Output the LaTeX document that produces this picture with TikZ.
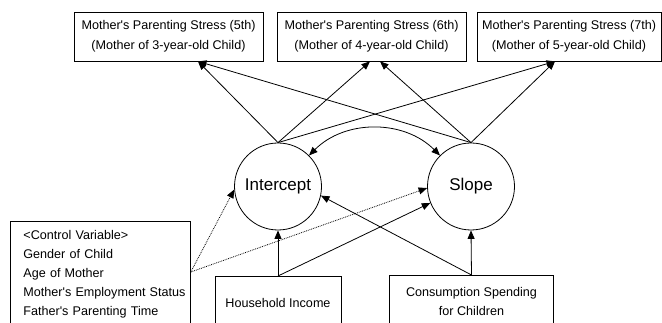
\documentclass[tikz,border=0pt]{standalone}
\usepackage{fontspec}
\setmainfont{Liberation Sans}
\usetikzlibrary{calc,arrows.meta}
\newcommand{\semarrowstyle}{-{Triangle[length=8.5pt,width=7pt]}}
\newcommand{\semcovstyle}{{Triangle[length=8.5pt,width=7pt]}-{Triangle[length=8.5pt,width=7pt]}}

\begin{document}
\begin{tikzpicture}[
    x=1pt, y=1pt,
    font=\fontsize{12.6}{20}\selectfont,
    reg/.style={\semarrowstyle, line width=0.8pt},
    cov/.style={\semcovstyle, line width=0.8pt},
    obs/.style={draw, line width=0.8pt, inner sep=2pt, align=center},
    lat/.style={draw, circle, line width=0.8pt, minimum size=87pt, inner sep=0pt, font=\fontsize{17}{20}\selectfont}
]
  \useasboundingbox (0,0) rectangle (662,323);
  \clip (0,0) rectangle (662,323);

  % outcomes
  \node[obs, minimum width=189pt, minimum height=49pt] (ps5) at (168.5,286.5) {Mother\textquotesingle s Parenting Stress (5th)\\(Mother of 3-year-old Child)};
  \node[obs, minimum width=189pt, minimum height=49pt] (ps6) at (371.5,286.5) {Mother\textquotesingle s Parenting Stress (6th)\\(Mother of 4-year-old Child)};
  \node[obs, minimum width=184pt, minimum height=49pt] (ps7) at (569,286.5) {Mother\textquotesingle s Parenting Stress (7th)\\(Mother of 5-year-old Child)};

  % latent growth factors
  \node[lat] (icpt) at (278,136.5) {Intercept};
  \node[lat] (slp) at (471,136.5) {Slope};

  % predictors
  \node[obs, anchor=north west, align=left, text width=154pt, inner xsep=13pt, inner ysep=9pt,
        font=\fontsize{12.6}{19}\selectfont] (ctrl) at (10,102)
    {<Control Variable>\\Gender of Child\\Age of Mother\\\mbox{Mother\textquotesingle s Employment Status}\\Father\textquotesingle s Parenting Time};
  \node[obs, anchor=north, minimum width=126pt, minimum height=54pt] (hinc) at (278,47) {Household Income};
  \node[obs, anchor=north, minimum width=164pt, minimum height=53pt,
        font=\fontsize{12.6}{19}\selectfont] (cons) at (471.5,48) {Consumption Spending\\for Children};
  \coordinate (cv) at ([yshift=-51pt]ctrl.north east);

  \draw[reg] (icpt.north) -- ([xshift=29.5pt]ps5.south);
  \draw[reg] (icpt.north) -- ([xshift=-1.5pt]ps6.south);
  \draw[reg] (icpt.north) -- ([xshift=-14pt]ps7.south);
  \draw[reg] (slp.north) -- ([xshift=29.5pt]ps5.south);
  \draw[reg] (slp.north) -- ([xshift=8.5pt]ps6.south);
  \draw[reg] (slp.north) -- ([xshift=-14pt]ps7.south);
  \draw[cov] (icpt.45) to[bend left=45] (slp.135);

  \draw[reg] (hinc.north) -- (icpt.south);
  \draw[reg] (hinc.north) -- (slp.202);
  \draw[reg] (cons.north) -- (slp.south);
  \draw[reg] (cons.north) -- (icpt.-12);
  \draw[reg, densely dotted] (cv) -- (icpt.184);
  \draw[reg, densely dotted] (cv) -- (slp.182);
\end{tikzpicture}
\end{document}
